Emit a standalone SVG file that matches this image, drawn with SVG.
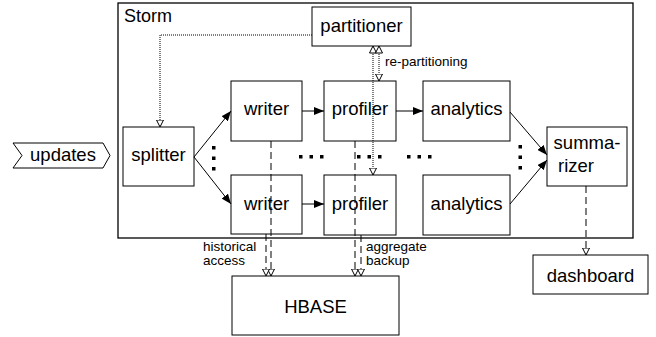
<svg xmlns="http://www.w3.org/2000/svg" width="656" height="337" viewBox="0 0 656 337">
<style>
.box{fill:#fff;stroke:#000;stroke-width:1}
.lbl{font-family:"Liberation Sans",Arial,sans-serif;font-size:18.5px;fill:#000;text-anchor:middle}
.sm{font-family:"Liberation Sans",Arial,sans-serif;font-size:13.5px;fill:#000}
.ln{fill:none;stroke:#000;stroke-width:1}
.dash{fill:none;stroke:#000;stroke-width:1;stroke-dasharray:7,4}
.dot{fill:none;stroke:#000;stroke-width:1;stroke-dasharray:1,1}
</style>
<defs>
<marker id="arr" viewBox="0 0 10 8" refX="10" refY="4" markerWidth="10" markerHeight="8" markerUnits="userSpaceOnUse" orient="auto"><path d="M0,0 L10,4 L0,8 z" fill="#000"/></marker>
<marker id="hol" viewBox="0 0 8 8" refX="7.5" refY="4" markerWidth="8" markerHeight="8" markerUnits="userSpaceOnUse" orient="auto-start-reverse"><path d="M0.5,0.5 L7.5,4 L0.5,7.5 z" fill="#fff" stroke="#000" stroke-width="1" stroke-dasharray="none"/></marker>
</defs>
<rect width="656" height="337" fill="#fff"/>
<g id="storm">
<rect x="118" y="3" width="515" height="235" fill="#fff" stroke="#000" stroke-width="1.3"/>
<text x="124" y="22" class="lbl" style="text-anchor:start;font-size:18px">Storm</text>
</g>
<g id="partitioner"><rect class="box" x="312" y="7" width="99" height="39"/><text class="lbl" x="361.5" y="32">partitioner</text></g>
<g id="updates"><path class="box" d="M13,143 H103 L110,155.5 L103,168 H13 L22,155.5 Z"/><text class="lbl" x="63" y="161">updates</text></g>
<g id="splitter"><rect class="box" x="123" y="127" width="71" height="59"/><text class="lbl" x="158.5" y="161">splitter</text></g>
<g id="writer1"><rect class="box" x="231" y="81" width="71" height="60"/><text class="lbl" x="266.5" y="115">writer</text></g>
<g id="writer2"><rect class="box" x="231" y="175" width="71" height="59"/><text class="lbl" x="266.5" y="210">writer</text></g>
<g id="profiler1"><rect class="box" x="324" y="81" width="72" height="60"/><text class="lbl" x="360" y="115">profiler</text></g>
<g id="profiler2"><rect class="box" x="324" y="175" width="72" height="60"/><text class="lbl" x="360" y="210">profiler</text></g>
<g id="analytics1"><rect class="box" x="423" y="81" width="87" height="60"/><text class="lbl" x="466.5" y="115">analytics</text></g>
<g id="analytics2"><rect class="box" x="423" y="175" width="87" height="60"/><text class="lbl" x="466.5" y="210">analytics</text></g>
<g id="summarizer"><rect class="box" x="547" y="127" width="80" height="59"/><text class="lbl" x="587" y="149">summa-</text><text class="lbl" x="576" y="172">rizer</text></g>
<g id="dashboard"><rect class="box" x="533" y="255" width="115" height="39"/><text class="lbl" x="590.5" y="282">dashboard</text></g>
<g id="hbase"><rect class="box" x="232" y="276" width="167" height="59"/><text class="lbl" x="315.5" y="313">HBASE</text></g>
<g id="ellipses" fill="#000">
<rect x="212" y="146" width="3.5" height="3.5"/><rect x="212" y="156.5" width="3.5" height="3.5"/><rect x="212" y="167" width="3.5" height="3.5"/>
<rect x="299" y="155" width="3.5" height="3.5"/><rect x="309.5" y="155" width="3.5" height="3.5"/><rect x="320" y="155" width="3.5" height="3.5"/>
<rect x="357" y="155" width="3.5" height="3.5"/><rect x="367.5" y="155" width="3.5" height="3.5"/><rect x="378" y="155" width="3.5" height="3.5"/>
<rect x="407" y="155" width="3.5" height="3.5"/><rect x="417.5" y="155" width="3.5" height="3.5"/><rect x="428" y="155" width="3.5" height="3.5"/>
<rect x="518.5" y="145" width="3.5" height="3.5"/><rect x="518.5" y="155.5" width="3.5" height="3.5"/><rect x="518.5" y="166" width="3.5" height="3.5"/>
</g>
<g id="connectors">
<line class="ln" x1="194" y1="157" x2="231" y2="111" marker-end="url(#arr)"/>
<line class="ln" x1="194" y1="157" x2="231" y2="204" marker-end="url(#arr)"/>
<line class="ln" x1="302" y1="111" x2="324" y2="111" marker-end="url(#arr)"/>
<line class="ln" x1="396" y1="111" x2="423" y2="111" marker-end="url(#arr)"/>
<line class="ln" x1="302" y1="204" x2="324" y2="204" marker-end="url(#arr)"/>
<line class="ln" x1="510" y1="112" x2="547" y2="155" marker-end="url(#arr)"/>
<line class="ln" x1="510" y1="204" x2="547" y2="160" marker-end="url(#arr)"/>
<line class="dash" x1="271" y1="141" x2="271" y2="276" marker-end="url(#hol)"/>
<line class="dash" x1="266" y1="234" x2="266" y2="276" marker-end="url(#hol)"/>
<line class="dash" x1="355" y1="141" x2="355" y2="276" marker-end="url(#hol)"/>
<line class="dash" x1="361" y1="235" x2="361" y2="276" marker-end="url(#hol)"/>
<line class="dash" x1="586" y1="186" x2="586" y2="255" marker-end="url(#hol)"/>
<path class="dot" d="M312,35 H160 V127" marker-end="url(#hol)"/>
<line class="dot" x1="373" y1="46" x2="373" y2="175" marker-start="url(#hol)" marker-end="url(#hol)"/>
<line class="dot" x1="379" y1="46" x2="379" y2="81" marker-start="url(#hol)" marker-end="url(#hol)"/>
<text class="sm" x="385" y="66">re-partitioning</text>
<text class="sm" x="203" y="251">historical</text>
<text class="sm" x="203" y="265">access</text>
<text class="sm" x="366" y="251">aggregate</text>
<text class="sm" x="366" y="265">backup</text>
</g>
</svg>
